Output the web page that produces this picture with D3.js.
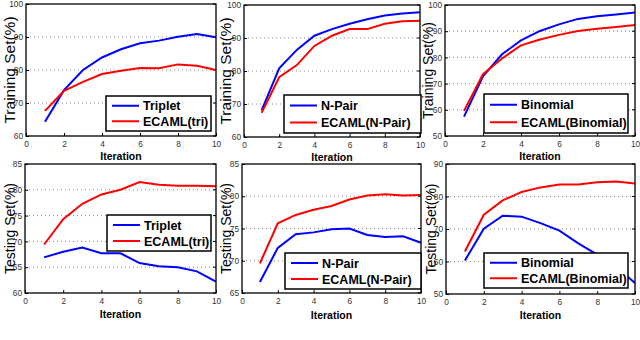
<!DOCTYPE html>
<html>
<head>
<meta charset="utf-8">
<script src="https://cdn.jsdelivr.net/npm/d3@7"></script>
<style>
  body { margin: 0; background: #fff; }
  svg { display: block; font-family: "Liberation Sans", Arial, sans-serif; }
</style>
</head>
<body>
<svg width="640" height="340"></svg>
<script>
var iterations = [1, 2, 3, 4, 5, 6, 7, 8, 9, 10];
var xTicks = [0, 2, 4, 6, 8, 10];

// training set accuracy
var trainTriplet  = [64.3, 73.9, 80.0, 83.8, 86.3, 88.1, 88.9, 90.1, 90.9, 89.9];
var trainEcamlTri = [67.6, 73.7, 76.4, 78.8, 79.8, 80.6, 80.5, 81.7, 81.3, 80.0];
var trainNPair    = [68.1, 80.8, 86.4, 90.7, 92.7, 94.3, 95.7, 96.8, 97.4, 97.8];
var trainEcamlNP  = [67.3, 78.1, 81.8, 87.6, 90.7, 92.7, 92.7, 94.3, 95.1, 95.2];
var trainBinomial = [57.4, 72.8, 81.2, 86.5, 90.1, 92.6, 94.7, 95.7, 96.4, 97.1];
var trainEcamlBin = [59.6, 73.6, 79.6, 84.6, 86.8, 88.6, 90.1, 90.9, 91.6, 92.4];

// testing set accuracy
var testTriplet  = [66.9, 68.0, 68.8, 67.7, 67.7, 65.8, 65.2, 65.0, 64.2, 62.2];
var testEcamlTri = [69.4, 74.3, 77.3, 79.1, 80.0, 81.5, 81.0, 80.8, 80.8, 80.7];
var testNPair    = [66.7, 72.0, 74.1, 74.4, 74.9, 75.0, 74.0, 73.7, 73.8, 72.8];
var testEcamlNP  = [69.6, 75.8, 77.1, 77.9, 78.5, 79.5, 80.1, 80.3, 80.1, 80.2];
var testBinomial = [60.3, 70.1, 74.1, 73.8, 71.8, 69.5, 65.6, 62.1, 58.4, 53.4];
var testEcamlBin = [63.1, 74.4, 78.8, 81.4, 82.8, 83.7, 83.7, 84.4, 84.6, 84.0];

var panels = [
  {x0: 26, x1: 216, y0: 4, y1: 136, yDom: [60, 100], yTicks: [60, 70, 80, 90, 100],
   ylabel: 'Training Set(%)', ylx: 15, lfs: 15.5, xl: 24,
   series: [trainTriplet, trainEcamlTri], names: ['Triplet', 'ECAML(tri)'],
   leg: [106, 96, 211, 131]},
  {x0: 244, x1: 420, y0: 5, y1: 137, yDom: [60, 100], yTicks: [60, 70, 80, 90, 100],
   ylabel: 'Training Set(%)', ylx: 231, lfs: 15.5, xl: 24,
   series: [trainNPair, trainEcamlNP], names: ['N-Pair', 'ECAML(N-Pair)'],
   leg: [284, 95, 421, 133]},
  {x0: 445, x1: 635, y0: 5, y1: 136, yDom: [50, 100], yTicks: [50, 60, 70, 80, 90, 100],
   ylabel: 'Training Set(%)', ylx: 433, lfs: 14, xl: 24,
   series: [trainBinomial, trainEcamlBin], names: ['Binomial', 'ECAML(Binomial)'],
   leg: [484, 94, 628, 133]},
  {x0: 25, x1: 216, y0: 164, y1: 293, yDom: [60, 85], yTicks: [60, 65, 70, 75, 80, 85],
   ylabel: 'Testing Set(%)', ylx: 15, lfs: 14, xl: 25,
   series: [testTriplet, testEcamlTri], names: ['Triplet', 'ECAML(tri)'],
   leg: [107, 215, 211, 251]},
  {x0: 242, x1: 421, y0: 164, y1: 293, yDom: [65, 85], yTicks: [65, 70, 75, 80, 85],
   ylabel: 'Testing Set(%)', ylx: 231, lfs: 14, xl: 26,
   series: [testNPair, testEcamlNP], names: ['N-Pair', 'ECAML(N-Pair)'],
   leg: [285, 253, 421, 289]},
  {x0: 446, x1: 635, y0: 164, y1: 294, yDom: [50, 90], yTicks: [50, 60, 70, 80, 90],
   ylabel: 'Testing Set(%)', ylx: 436, lfs: 14, xl: 25,
   series: [testBinomial, testEcamlBin], names: ['Binomial', 'ECAML(Binomial)'],
   leg: [484, 253, 628, 288]}
];

var colors = ['#0000ff', '#ff0000'];
var svg = d3.select('svg');

panels.forEach(function(p) {
  var x = d3.scaleLinear().domain([0, 10]).range([p.x0, p.x1]);
  var y = d3.scaleLinear().domain(p.yDom).range([p.y1, p.y0]);
  var g = svg.append('g');

  // dotted grid
  g.selectAll('.grid')
    .data(p.yTicks.slice(1, -1))
    .enter().append('line')
    .attr('x1', p.x0).attr('x2', p.x1)
    .attr('y1', function(d) { return y(d); })
    .attr('y2', function(d) { return y(d); })
    .attr('stroke', '#888')
    .attr('stroke-width', 1)
    .attr('stroke-dasharray', '1,3');

  // axes
  var xAxis = g.append('g')
    .attr('transform', 'translate(0,' + p.y1 + ')')
    .call(d3.axisBottom(x).tickValues(xTicks).tickSizeInner(-3).tickSizeOuter(0).tickPadding(5));
  var yAxis = g.append('g')
    .attr('transform', 'translate(' + p.x0 + ',0)')
    .call(d3.axisLeft(y).tickValues(p.yTicks).tickSizeInner(-3).tickSizeOuter(0).tickPadding(3));
  [xAxis, yAxis].forEach(function(a) {
    a.select('.domain').remove();
    a.selectAll('line').attr('stroke', '#000');
    a.selectAll('text').attr('font-size', 8.3).attr('fill', '#333')
      .attr('font-family', '"Liberation Sans", Arial, sans-serif');
  });

  // right-side inward ticks
  g.selectAll('.rt')
    .data(p.yTicks)
    .enter().append('line')
    .attr('x1', p.x1).attr('x2', p.x1 - 3)
    .attr('y1', function(d) { return y(d); })
    .attr('y2', function(d) { return y(d); })
    .attr('stroke', '#000');

  // lines
  var line = d3.line()
    .x(function(d, i) { return x(iterations[i]); })
    .y(function(d) { return y(d); });
  p.series.forEach(function(s, k) {
    g.append('path')
      .datum(s)
      .attr('d', line)
      .attr('fill', 'none')
      .attr('stroke', colors[k])
      .attr('stroke-width', 2);
  });

  // frame
  g.append('rect')
    .attr('x', p.x0).attr('y', p.y0)
    .attr('width', p.x1 - p.x0).attr('height', p.y1 - p.y0)
    .attr('fill', 'none')
    .attr('stroke', '#000')
    .attr('stroke-width', 1.3);

  // labels
  g.append('text')
    .attr('x', (p.x0 + p.x1) / 2)
    .attr('y', p.y1 + p.xl)
    .attr('text-anchor', 'middle')
    .attr('font-size', 10.5)
    .attr('font-weight', 'bold')
    .text('Iteration');

  g.append('text')
    .attr('transform', 'translate(' + p.ylx + ',' + (p.y0 + p.y1) / 2 + ') rotate(-90)')
    .attr('text-anchor', 'middle')
    .attr('font-size', p.lfs)
    .text(p.ylabel);

  // legend
  var L = p.leg;
  var lg = g.append('g');
  lg.append('rect')
    .attr('x', L[0]).attr('y', L[1])
    .attr('width', L[2] - L[0]).attr('height', L[3] - L[1])
    .attr('fill', '#fff')
    .attr('stroke', '#000')
    .attr('stroke-width', 1.5);
  var rowH = (L[3] - L[1]) / 2;
  p.names.forEach(function(n, k) {
    var cy = L[1] + rowH * (k + 0.5) + (k === 0 ? 1 : -1);
    lg.append('line')
      .attr('x1', L[0] + 6).attr('x2', L[0] + 33)
      .attr('y1', cy).attr('y2', cy)
      .attr('stroke', colors[k])
      .attr('stroke-width', 2);
    lg.append('text')
      .attr('x', L[0] + 37)
      .attr('y', cy + 4.5)
      .attr('font-size', 12.5)
      .attr('font-weight', 'bold')
      .text(n);
  });
});
</script>
</body>
</html>
